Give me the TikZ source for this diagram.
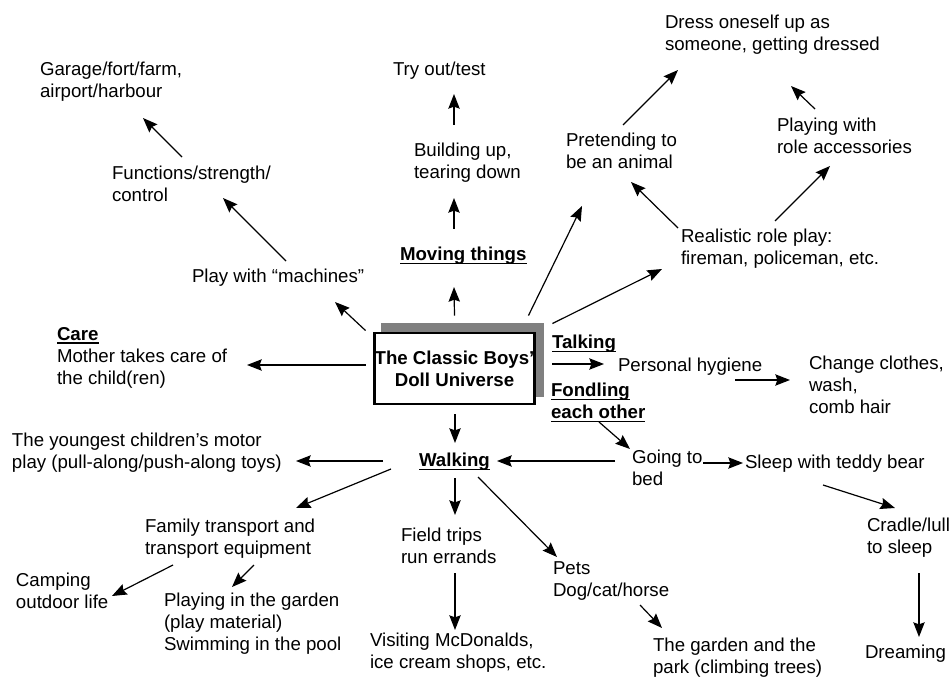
\documentclass[tikz,border=0pt]{standalone}
\usepackage{fontspec}
\setmainfont{Liberation Sans}
\usetikzlibrary{arrows.meta,calc,backgrounds}
\definecolor{shadowgray}{HTML}{808080}
% underline drawn through the descenders
\newcommand{\ulbox}[1]{\setbox0=\hbox{#1}\rlap{\rule[-2.7pt]{\wd0}{1.1pt}}\box0}
\tikzset{
  lbl/.style={anchor=north west, inner sep=0pt, outer sep=0pt, align=left,
    font=\fontsize{14}{16.5}\selectfont},
  arr/.style={-{Stealth[length=11pt,width=8.5pt,inset=1.5pt]}, line width=0.9pt},
  hubbox/.style={draw, line width=2.2pt, fill=white, minimum width=120pt,
    minimum height=53.25pt, inner sep=0pt, align=center,
    font=\fontsize{14}{16.5}\selectfont\bfseries}
}
\begin{document}
\begin{tikzpicture}[x=0.75pt,y=-0.75pt]
\useasboundingbox (0,0) rectangle (952,677);

% central box with its drop shadow
\node[hubbox] (hub) at (454.5,368.5) {The Classic Boys’\\Doll Universe};
\begin{scope}[on background layer]
  \fill[shadowgray] ($(hub.south west)+(8,-8)$) rectangle ($(hub.north east)+(8.5,-9)$);
\end{scope}

% labels
\node[lbl] (garage)    at (40,62)   {Garage/fort/farm,\\airport/harbour};
\node[lbl] (tryout)    at (393,62)  {Try out/test};
\node[lbl] (dress)     at (665,15)  {Dress oneself up as\\someone, getting dressed};
\node[lbl] (building)  at (414,143) {Building up,\\tearing down};
\node[lbl] (functions) at (112,166) {Functions/strength/\\control};
\node[lbl] (pretend)   at (566,133) {Pretending to\\be an animal};
\node[lbl] (roleacc)   at (777,118) {Playing with\\role accessories};
\node[lbl] (realistic) at (681,229) {Realistic role play:\\fireman, policeman, etc.};
\node[lbl] (moving)    at (400,247) {\ulbox{\bfseries Moving things}};
\node[lbl] (machines)  at (192,269) {Play with “machines”};
\node[lbl] (care)      at (57,327)  {\ulbox{\bfseries Care}\\Mother takes care of\\the child(ren)};
\node[lbl] (talking)   at (552,335) {\ulbox{\bfseries Talking}};
\node[lbl] (hygiene)   at (618,358) {Personal hygiene};
\node[lbl] (change)    at (809,356) {Change clothes,\\wash,\\comb hair};
\node[lbl] (fondling)  at (551,383) {\ulbox{\bfseries Fondling}\\\ulbox{\bfseries each other}};
\node[lbl] (goingbed)  at (632,450) {Going to\\bed};
\node[lbl] (sleep)     at (745,455) {Sleep with teddy bear};
\node[lbl] (youngest)  at (12,433)  {The youngest children’s motor\\play (pull-along/push-along toys)};
\node[lbl] (walking)   at (419,453) {\ulbox{\bfseries Walking}};
\node[lbl] (family)    at (145,519) {Family transport and\\transport equipment};
\node[lbl] (field)     at (401,528) {Field trips\\run errands};
\node[lbl] (pets)      at (553,562) {Pets\\Dog/cat/horse};
\node[lbl] (cradle)    at (867,518) {Cradle/lull\\to sleep};
\node[lbl] (camping)   at (16,573)  {Camping\\outdoor life};
\node[lbl] (playgarden) at (164,593) {Playing in the garden\\(play material)\\Swimming in the pool};
\node[lbl] (visiting)  at (370,633) {Visiting McDonalds,\\ice cream shops, etc.};
\node[lbl] (garden)    at (653,638) {The garden and the\\park (climbing trees)};
\node[lbl] (dreaming)  at (865,645) {Dreaming};

% connectors
\draw[arr] ($(functions.north west)+(70,-9)$) -- ($(garage.north west)+(103,56)$);
\draw[arr] ($(machines.north west)+(94,-8)$) -- ($(functions.north west)+(111,32)$);
\draw[arr] ($(hub.north west)+(-7.5,-1)$) -- ($(machines.north west)+(143,33)$);
\draw[arr] ($(building.north west)+(40,-18)$) -- ($(tryout.north west)+(61,32)$);
\draw[arr] ($(moving.north west)+(54,-18)$) -- ($(building.north west)+(40,55)$);
\draw[arr] ($(hub.north)+(0,-16)$) -- ($(moving.north west)+(54,40)$);
\draw[arr] ($(hub.north east)+(-7.5,-16)$) -- ($(pretend.north west)+(16,73)$);
\draw[arr] ($(hub.north east)+(16.5,-8)$) -- ($(realistic.north west)+(-19,40)$);
\draw[arr] ($(pretend.north west)+(57,-8)$) -- ($(dress.north west)+(13,55)$);
\draw[arr] ($(roleacc.north west)+(38,-9)$) -- ($(dress.north west)+(126,71)$);
\draw[arr] ($(realistic.north west)+(94,-8)$) -- ($(roleacc.north west)+(53,48)$);
\draw[arr] ($(realistic.north west)+(-3,-1)$) -- ($(pretend.north west)+(65,49)$);
\draw[arr] ($(hub.west)+(-7.5,-3.5)$) -- ($(care.north west)+(190,38)$);
\draw[arr] ($(talking.north west)+(0,29)$) -- ($(hygiene.north west)+(-14,6)$);
\draw[arr] ($(hygiene.north west)+(117,22)$) -- ($(change.north west)+(-19,24)$);
\draw[arr] ($(fondling.north west)+(48,39)$) -- ($(goingbed.north west)+(-2,-1)$);
\draw[arr] ($(goingbed.north west)+(71,13)$) -- ($(sleep.north west)+(-2,8)$);
\draw[arr] ($(goingbed.north west)+(-17,11)$) -- ($(walking.north west)+(78,8)$);
\draw[arr] ($(sleep.north west)+(78,30)$) -- ($(cradle.north west)+(28,-10)$);
\draw[arr] ($(cradle.north west)+(52,55)$) -- ($(dreaming.north west)+(54,-8)$);
\draw[arr] ($(hub.south)+(0.5,9)$) -- ($(walking.north west)+(36,-10)$);
\draw[arr] ($(walking.north west)+(-36,8)$) -- ($(youngest.north west)+(284,28)$);
\draw[arr] ($(walking.north west)+(-28,16)$) -- ($(family.north west)+(151,-11)$);
\draw[arr] ($(walking.north west)+(36,25)$) -- ($(field.north west)+(54,-13)$);
\draw[arr] ($(walking.north west)+(59,24)$) -- ($(pets.north west)+(4,-5)$);
\draw[arr] ($(field.north west)+(54,45)$) -- ($(visiting.north west)+(85,-3)$);
\draw[arr] ($(family.north west)+(28,46)$) -- ($(camping.north west)+(96,23)$);
\draw[arr] ($(family.north west)+(109,46)$) -- ($(playgarden.north west)+(68,-6)$);
\draw[arr] ($(pets.north west)+(87,43)$) -- ($(garden.north west)+(9,-10)$);
\end{tikzpicture}
\end{document}
